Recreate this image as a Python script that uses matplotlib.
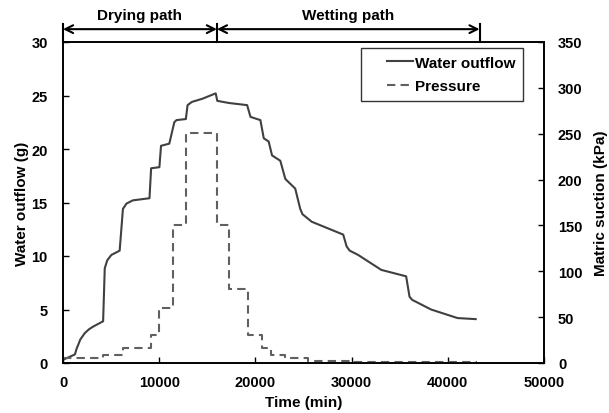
import matplotlib
matplotlib.use('Agg')
import matplotlib.pyplot as plt
from matplotlib.lines import Line2D
from matplotlib.legend_handler import HandlerLine2D

plt.rcParams['font.family'] = ['Liberation Sans', 'DejaVu Sans']
plt.rcParams['font.weight'] = 'bold'

# water outflow (g) vs time (min)
t_out = [0, 1240, 1400, 1580, 1800, 2270, 2700, 3130, 4170, 4340, 4600, 5030,
         5890, 6230, 6600, 7260, 8990, 9160, 10020, 10190, 11050, 11570, 11800,
         12770, 12950, 13400, 14500, 15870, 16040, 17250, 19140, 19490, 20520,
         20870, 21380, 21730, 22590, 23110, 24140, 24660, 24900, 25860, 29130,
         29480, 29800, 30680, 33090, 35670, 36020, 36300, 38260, 41010, 42900]
outflow = [0.3, 0.8, 1.3, 1.7, 2.2, 2.8, 3.15, 3.4, 3.9, 8.85, 9.6, 10.1,
           10.5, 14.4, 14.9, 15.2, 15.4, 18.2, 18.3, 20.3, 20.5, 22.5, 22.7,
           22.8, 24.1, 24.4, 24.7, 25.2, 24.5, 24.3, 24.1, 23.0, 22.7,
           21.0, 20.7, 19.4, 18.9, 17.2, 16.3, 14.4, 13.9, 13.2, 12.0,
           10.9, 10.5, 10.1, 8.7, 8.1, 6.2, 5.9, 5.0, 4.2, 4.1]

# applied pressure (kPa), step levels
t_press = [0, 4130, 6200, 9160, 10020, 11400, 12780, 15960, 17250, 19250,
           20700, 21600, 23100, 25500, 30000, 43000]
pressure = [5, 9, 16, 31, 60, 150, 251, 150, 81, 31, 16, 9, 5, 2.5, 1.5, 1.5]

fig = plt.figure(figsize=(6.09, 4.14), dpi=100)
ax = fig.add_axes([63/609, 1-364/414, 481/609, 321/414])
ax2 = ax.twinx()

l1, = ax.plot(t_out, outflow, color='#404040', lw=1.5, label='Water outflow')
l2, = ax2.plot(t_press, pressure, color='#606060', lw=1.5, drawstyle='steps-post',
               linestyle=(0, (4, 2.5)), label='Pressure')

ax.set_xlim(0, 50000)
ax.set_ylim(0, 30)
ax2.set_ylim(0, 350)
ax.set_xticks(range(0, 50001, 10000))
ax.set_yticks(range(0, 31, 5))
ax2.set_yticks(range(0, 351, 50))
ax.tick_params(axis='x', direction='in', labelsize=10.5, length=4, width=1, pad=9)
ax.tick_params(axis='y', direction='in', labelsize=10.5, length=4, width=1, pad=11)
ax2.tick_params(axis='y', direction='in', labelsize=10.5, length=4, width=1, pad=10)
for a in (ax, ax2):
    for s in a.spines.values():
        s.set_linewidth(1.2)
    for lab in a.get_xticklabels() + a.get_yticklabels():
        lab.set_fontweight('bold')

ax.set_xlabel('Time (min)', fontsize=11, fontweight='bold', labelpad=4)
ax.set_ylabel('Water outflow (g)', fontsize=11, fontweight='bold', labelpad=2)
ax2.set_ylabel('Matric suction (kPa)', fontsize=11, fontweight='bold', labelpad=8)

# xpad leaves blank room left of the short legend line
leg = ax.legend(handles=[l1, l2], loc='upper right', bbox_to_anchor=(0.956, 0.981),
                borderaxespad=0, fancybox=False, edgecolor='black', fontsize=11,
                handlelength=2.9, handletextpad=0.1, labelspacing=0.6,
                borderpad=0.5, handler_map={Line2D: HandlerLine2D(xpad=1.2)})
leg.get_frame().set_linewidth(1.0)
for tx in leg.get_texts():
    tx.set_fontweight('bold')

# drying / wetting path markers above the axes
trans = ('data', 'axes fraction')
for x0, x1 in [(0, 16000), (16000, 43300)]:
    ax.annotate('', xy=(x0, 1.04), xytext=(x1, 1.04), xycoords=trans, textcoords=trans,
                arrowprops=dict(arrowstyle='<->', lw=1.5, color='black',
                                shrinkA=0, shrinkB=0, mutation_scale=14),
                annotation_clip=False)
for xb in [0, 16000, 43300]:
    ax.plot([xb, xb], [1.0, 1.057], color='black', lw=1.5,
            transform=ax.get_xaxis_transform(), clip_on=False)
ax.text(8000, 1.085, 'Drying path', transform=ax.get_xaxis_transform(),
        ha='center', va='center', fontsize=11, fontweight='bold')
ax.text(29650, 1.085, 'Wetting path', transform=ax.get_xaxis_transform(),
        ha='center', va='center', fontsize=11, fontweight='bold')

fig.savefig('out.png', dpi=100)
